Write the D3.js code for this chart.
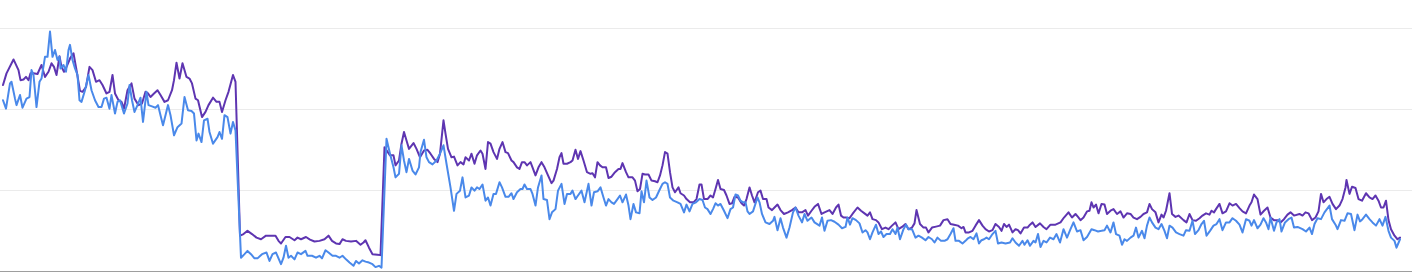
<!DOCTYPE html>
<html>
<head>
<meta charset="utf-8">
<script src="https://cdn.jsdelivr.net/npm/d3@7"></script>
<style>
  html, body { margin: 0; padding: 0; background: #ffffff; }
  svg { display: block; font-family: Roboto, "Noto Sans", sans-serif; }
</style>
</head>
<body>
<script>
// Grid values (y axis, no labels shown)
const gridTicks = [0, 25, 50, 75];
const dayDomain = [0, 2794];

// Series 1 (purple)
const purpleDays = [0,7,21,31,35,41,46,51,55,61,69,77,84,91,97,102,107,113,117,122,127,135,141,147,154,159,166,173,179,186,193,199,207,213,219,224,231,
237,242,249,257,263,271,278,285,290,295,302,309,315,323,330,338,342,347,353,359,367,373,378,385,390,398,405,411,420,427,433,438,445,451,460,465,
474,481,489,498,507,516,526,536,545,551,556,565,573,583,589,596,606,614,623,633,643,651,658,666,673,679,686,696,706,
715,721,725,732,739,749,755,763,774,781,785,792,797,802,807,812,821,827,834,842,849,855,862,869,874,881,885,890,897,902,909,915,921,925,932,937,
943,948,955,959,965,970,975,981,988,993,999,1005,1010,1017,1021,1028,1033,1038,1043,1048,1055,1059,1065,1071,1077,1083,1090,1097,1101,1108,1113,1117,1121,1128,1135,1139,1145,1150,1155,1161,1168,1175,
1179,1184,1189,1194,1199,1206,1211,1217,1224,1231,1235,1239,1246,1251,1259,1264,1269,1274,1279,1284,1291,1297,1304,1309,1314,1319,1324,1329,1334,1339,1344,1351,1355,1362,1367,1374,1381,1387,1393,1397,1402,1409,
1415,1420,1425,1430,1435,1442,1447,1453,1458,1463,1470,1477,1482,1487,1493,1498,1503,1510,1515,1520,1527,1531,1538,1543,1549,1555,1562,1570,1578,1585,1591,1598,1605,1610,1617,1623,1630,1637,1643,
1653,1659,1666,1671,1676,1681,1686,1693,1699,1709,1716,1723,1729,1734,1739,1746,1751,1758,1765,1771,1778,1785,1791,1798,1805,1811,1818,1823,1827,1834,1841,1846,1851,1858,1866,1874,1881,
1889,1895,1902,1910,1917,1921,1925,1932,1939,1945,1952,1959,1965,1972,1979,1985,1992,1997,2002,2007,2012,2019,2025,2030,2035,2042,2049,2054,2059,2065,2074,2081,2087,2095,2105,2115,2122,
2131,2138,2145,2150,2155,2161,2168,2173,2177,2181,2186,2191,2197,2203,2208,2215,2221,2228,2235,2241,2248,2255,2261,2268,2275,2281,2288,2293,2298,2305,2311,2317,2321,2326,2333,2338,2345,2351,
2361,2367,2373,2379,2386,2393,2399,2406,2413,2417,2422,2426,2433,2439,2446,2453,2459,2466,2473,2479,2486,2493,2497,2502,2509,2515,2522,2529,2535,2542,2549,2555,2562,2569,2575,2582,
2593,2599,2605,2611,2618,2625,2631,2636,2641,2647,2653,2659,2666,2673,2679,2685,2687,2693,2698,2705,2711,2718,2726,2733,2739,2745,2751,2756,2761,2766,2771,2776,2783,2789,2794];
const purpleVals = [57.4,61.0,65.3,62.0,58.9,59.1,59.9,58.9,61.0,61.0,60.8,63.6,59.9,61.5,64.1,63.0,60.5,66.3,63.0,61.5,63.0,65.9,67.2,62.0,55.6,55.3,56.8,63.0,62.0,58.4,58.9,57.4,54.8,55.3,60.5,54.8,52.7,
52.2,50.1,55.8,57.9,53.2,51.2,51.7,55.3,54.8,53.7,54.8,55.8,54.3,52.2,52.7,55.8,58.9,64.3,59.4,64.1,59.9,59.4,57.9,53.2,52.7,47.5,49.1,51.2,53.5,52.2,52.2,49.1,52.7,55.3,60.5,58.4,
10.9,11.4,12.4,11.4,10.3,9.8,10.9,10.9,10.9,9.3,8.5,10.5,10.5,9.5,10.3,9.8,10.5,9.7,9.1,9.3,9.8,10.9,9.3,8.5,8.3,9.8,9.3,9.1,9.3,
8.1,8.8,9.5,7.2,5.2,5.0,4.9,38.2,35.7,35.7,32.6,34.1,39.3,42.9,40.3,37.7,39.5,37.7,35.1,37.2,37.4,36.2,34.6,33.6,36.2,46.5,42.4,37.7,35.1,35.3,32.6,33.6,32.9,35.1,34.1,36.2,
33.1,35.7,37.2,36.2,31.5,39.8,39.3,36.7,34.6,37.7,39.8,36.7,36.4,34.1,33.6,32.0,31.5,33.6,33.6,32.6,33.6,32.0,29.5,32.0,33.6,32.0,29.5,27.1,27.9,31.5,35.1,36.4,33.1,33.1,33.6,34.1,37.4,34.6,37.0,34.1,30.5,30.0,
30.2,28.9,33.6,32.6,32.0,32.0,28.7,29.1,30.5,31.5,31.5,33.3,30.5,28.9,28.9,27.9,24.6,25.3,30.0,29.8,29.8,27.9,27.7,27.4,29.5,32.6,36.7,36.2,30.5,25.8,24.3,25.8,24.0,23.3,22.2,21.2,21.2,22.2,26.7,26.7,22.2,22.2,
23.3,22.7,25.3,28.1,25.3,25.0,23.3,20.7,20.9,22.9,22.7,20.9,20.2,22.2,25.8,23.3,21.2,24.3,24.8,22.2,22.2,19.6,18.8,19.6,20.5,18.8,17.6,18.1,18.8,19.6,18.1,18.1,18.8,17.1,18.6,19.8,20.7,17.6,18.1,
18.8,17.6,19.6,20.5,17.1,16.5,16.5,16.3,17.6,19.6,18.6,17.8,17.1,18.1,16.0,15.7,15.0,12.9,13.4,12.9,14.0,15.0,12.9,13.6,14.5,12.9,13.4,14.7,18.8,14.5,13.4,13.4,11.9,13.4,13.7,14.0,15.7,
16.0,14.5,14.3,14.0,13.2,13.6,11.9,11.9,12.4,14.0,15.7,14.0,12.9,12.2,12.6,14.5,13.6,12.4,14.5,13.6,14.3,11.9,12.9,12.6,11.6,13.4,13.4,14.3,15.0,13.6,14.7,13.6,12.9,14.3,14.3,15.0,16.5,
18.1,16.5,17.6,16.7,15.7,16.5,18.4,18.6,21.2,19.6,20.5,17.8,20.7,20.5,17.6,18.6,19.1,17.6,18.4,16.5,17.8,17.6,16.5,16.0,16.7,17.6,18.1,20.7,19.1,18.1,15.0,17.4,16.5,18.6,24.0,17.6,16.7,17.1,
15.7,15.0,17.6,15.7,15.5,16.3,17.1,17.8,17.4,18.6,18.1,19.1,20.7,17.8,18.4,20.9,20.2,20.7,19.4,18.4,17.8,20.2,21.2,23.6,22.2,17.4,18.6,19.6,16.5,15.7,15.7,15.0,16.0,17.4,18.1,17.1,
17.6,17.1,18.1,17.8,15.7,16.5,18.4,23.8,21.2,22.2,22.9,20.7,19.1,20.2,22.2,25.8,28.1,23.8,26.0,25.6,22.2,21.7,24.0,22.7,22.2,23.3,21.7,19.6,19.6,21.7,15.7,12.9,10.9,9.8,10.3];

// Series 2 (blue)
const blueDays = [0,6,14,17,24,27,34,39,47,53,57,61,67,73,77,84,89,94,99,104,109,113,115,121,126,131,134,139,144,149,153,157,164,171,177,184,191,197,202,207,213,217,224,229,234,
237,242,249,253,258,263,269,275,280,287,291,298,305,310,315,320,325,330,335,342,349,357,363,370,377,382,387,391,397,402,409,413,420,429,433,438,443,449,455,460,465,
476,483,489,496,503,509,518,527,533,539,546,556,561,566,571,576,583,589,596,605,609,618,626,633,638,645,651,659,666,673,679,686,693,701,706,
712,719,725,732,739,745,752,757,767,774,781,785,792,797,802,807,812,819,825,832,835,842,847,852,859,867,874,881,887,895,902,907,914,919,925,932,937,
943,948,953,959,965,970,975,981,986,993,998,1005,1011,1017,1021,1028,1035,1039,1043,1048,1055,1059,1065,1070,1077,1081,1088,1093,1098,1105,1110,1117,1123,1128,1135,1139,1145,1150,1157,1163,1171,1177,
1182,1189,1195,1201,1206,1211,1217,1222,1229,1234,1239,1246,1251,1255,1261,1266,1273,1277,1282,1287,1293,1299,1306,1313,1319,1324,1329,1334,1341,1349,1355,1362,1367,1373,1379,1386,1393,1399,1404,1409,
1415,1420,1425,1430,1435,1442,1449,1455,1460,1465,1470,1475,1480,1485,1489,1493,1500,1509,1513,1518,1525,1533,1540,1543,1549,1555,1560,1567,1573,1580,1585,1591,1598,1603,1609,1617,1623,1633,1638,1643,
1649,1656,1663,1671,1678,1685,1689,1694,1699,1706,1713,1719,1725,1729,1734,1739,1746,1751,1756,1761,1767,1774,1779,1785,1789,1794,1801,1806,1811,1818,1825,1831,1838,1845,1851,1858,1863,1869,1876,1883,
1889,1895,1901,1905,1912,1919,1925,1930,1935,1941,1947,1952,1957,1962,1967,1972,1979,1985,1990,1997,2005,2014,2019,2025,2032,2039,2043,2049,2054,2061,2065,2070,2075,2081,2087,2094,2101,2107,2114,2121,
2128,2135,2141,2148,2155,2161,2168,2177,2183,2190,2197,2203,2208,2215,2221,2226,2233,2238,2243,2248,2255,2261,2266,2271,2278,2283,2288,2293,2298,2305,2311,2317,2323,2328,2333,2339,2346,2353,
2361,2366,2373,2379,2384,2391,2397,2402,2407,2414,2421,2427,2433,2439,2446,2453,2459,2466,2473,2479,2486,2493,2497,2502,2509,2515,2521,2526,2531,2535,2542,2547,2553,2557,2564,2571,2577,2582,2589,
2599,2606,2613,2618,2623,2629,2636,2643,2653,2658,2665,2669,2676,2683,2689,2696,2703,2709,2714,2719,2726,2733,2739,2746,2753,2759,2765,2771,2776,2783,2787,2794];
const blueVals = [52.7,50.1,57.9,58.4,53.2,51.2,54.3,50.4,53.2,53.7,62.0,60.5,50.6,58.4,59.4,66.1,66.1,73.9,66.1,68.2,65.1,66.1,62.5,63.6,61.5,68.2,69.8,65.1,62.5,60.5,52.7,52.2,55.8,60.5,55.8,52.7,50.6,50.6,53.2,53.5,50.1,54.3,48.6,52.2,52.7,
51.2,48.6,51.7,57.4,52.7,49.1,51.2,53.5,46.0,55.3,51.2,50.8,50.4,51.2,48.1,45.0,48.1,51.2,48.1,41.9,44.4,45.5,53.7,49.6,49.4,48.6,40.3,42.4,39.8,46.5,47.0,42.9,39.3,41.3,42.9,40.8,48.1,47.5,42.4,46.0,43.4,
4.1,5.2,6.2,5.2,3.9,3.9,5.2,5.7,3.1,5.2,5.7,2.1,4.1,7.8,4.1,4.7,3.6,5.7,5.2,6.2,4.7,4.7,4.1,4.7,3.9,6.4,5.7,4.7,4.7,4.1,4.7,3.6,2.6,1.6,3.1,
2.3,3.3,2.9,2.6,2.1,1.2,1.6,1.0,40.8,36.2,32.0,28.9,30.0,38.8,34.1,30.5,34.6,31.0,29.8,32.0,36.7,40.5,35.1,33.6,32.9,34.1,36.2,38.8,33.1,25.8,18.6,23.8,24.8,28.9,22.7,23.3,25.8,
24.8,25.8,25.3,26.7,21.7,22.7,20.2,23.8,23.8,27.4,25.8,22.9,22.9,24.0,22.2,24.3,25.3,25.3,26.7,25.3,25.3,23.8,20.2,25.8,29.5,22.2,21.9,16.0,18.1,19.1,24.8,26.9,20.7,23.8,23.8,24.8,22.2,23.3,24.8,21.2,26.9,20.2,
24.3,24.6,25.8,22.7,20.2,22.2,21.2,20.7,22.2,23.3,21.2,23.6,20.2,16.0,20.7,18.1,17.8,24.6,21.2,27.9,22.7,21.9,22.7,25.0,26.9,27.4,26.9,22.7,21.7,21.2,20.7,18.1,20.5,18.4,20.7,21.2,22.2,21.9,19.6,19.1,
17.6,19.1,20.9,20.2,20.7,18.6,16.3,19.1,19.6,23.6,23.3,21.7,21.2,21.2,18.4,17.6,18.4,22.7,21.2,17.6,15.0,14.5,15.5,16.7,12.6,16.3,13.4,10.3,13.4,18.1,19.6,17.1,15.0,17.6,15.5,16.5,15.0,14.0,16.5,12.4,
15.5,15.7,15.2,14.3,13.2,13.6,16.5,14.3,16.3,15.7,14.7,11.9,12.6,11.9,9.8,11.9,14.3,11.4,12.2,10.5,11.4,11.4,12.9,11.4,13.4,9.8,12.9,14.3,12.9,12.9,10.3,10.9,10.3,9.5,10.5,9.8,8.8,10.3,9.3,9.3,
9.8,11.4,13.2,9.3,9.3,8.5,9.3,10.1,10.5,9.8,11.6,8.5,9.5,9.8,10.3,9.8,11.4,12.4,8.5,8.8,8.5,8.8,10.1,8.8,7.8,9.3,8.1,9.5,7.8,9.3,8.8,11.4,7.4,9.3,8.8,10.3,9.8,11.4,8.8,12.9,
10.3,12.9,15.0,12.2,12.6,9.5,10.5,12.9,12.6,12.2,12.4,12.6,14.0,11.9,15.0,11.4,10.9,8.1,9.8,9.3,10.3,10.9,13.4,10.3,12.4,10.1,14.0,16.5,15.0,13.4,12.9,14.5,12.4,10.1,14.0,13.4,11.9,11.4,
10.9,12.6,12.4,15.5,11.4,12.6,14.5,15.5,10.9,12.4,14.0,14.5,16.0,12.6,15.0,15.0,16.3,15.5,14.3,11.9,16.0,15.5,14.0,15.7,13.2,14.3,16.3,15.0,12.9,16.5,12.4,15.0,16.0,12.2,15.0,16.0,16.5,13.4,13.6,
12.9,12.2,13.4,11.4,14.5,16.3,16.0,18.1,20.2,16.0,14.3,12.9,15.7,15.5,17.8,17.6,12.6,17.4,15.3,16.0,17.4,16.0,15.0,14.0,16.0,14.0,16.7,12.4,10.3,9.3,7.2,9.8];

const W = 1416, H = 277;
const svg = d3.select("body").append("svg").attr("width", W).attr("height", H);

const x = d3.scaleLinear().domain(dayDomain).range([3, 1400]);
const y = d3.scaleLinear().domain([0, 75]).range([271, 28]);

// Gridlines + baseline
const grid = svg.append("g")
  .call(d3.axisLeft(y).tickValues(gridTicks).tickSize(-1412).tickFormat(""));
grid.select(".domain").remove();
grid.selectAll(".tick line")
  .attr("stroke", d => d === 0 ? "#9e9e9e" : "#ebebeb")
  .attr("stroke-width", 1);

const seriesDefs = [
  { days: purpleDays, vals: purpleVals, color: "#5e35b1" },
  { days: blueDays, vals: blueVals, color: "#4a89ea" }
];

const line = d3.line()
  .x(d => x(d[0]))
  .y(d => y(d[1]))
  .curve(d3.curveLinear);

seriesDefs.forEach(s => {
  const pts = s.days.map((d, i) => [d, s.vals[i]]);
  svg.append("path")
    .datum(pts)
    .attr("fill", "none")
    .attr("stroke", s.color)
    .attr("stroke-width", 2)
    .attr("stroke-linejoin", "round")
    .attr("stroke-linecap", "round")
    .attr("d", line);
});
</script>
</body>
</html>
